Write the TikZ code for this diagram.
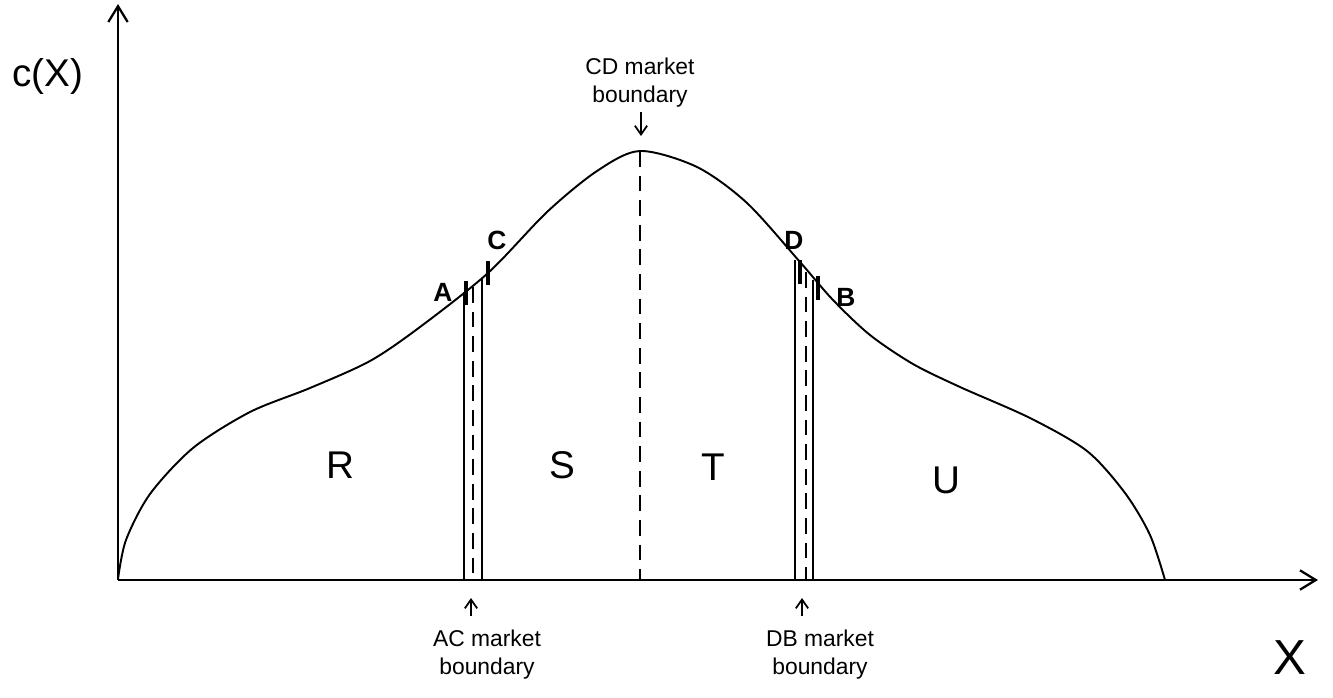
\documentclass[tikz,border=0pt]{standalone}
\usepackage{fontspec}
\setmainfont{Liberation Sans}
\usetikzlibrary{arrows.meta}

\begin{document}
\begin{tikzpicture}[x=0.02cm,y=-0.02cm,
 axis/.style={line width=1.3pt,-{Straight Barb[length=9pt,width=11pt,line width=1.3pt]}},
 curve/.style={line width=1.1pt},
 wall/.style={line width=0.8pt},
 mid/.style={line width=0.9pt,dash pattern=on 9pt off 5pt},
 tick/.style={line width=2.6pt},
 pointer/.style={line width=1pt,-{Straight Barb[length=5pt,width=7pt,line width=1pt]}},
 bigtxt/.style={font=\fontsize{22}{24}\selectfont},
 ptxt/.style={font=\fontsize{15}{17}\selectfont\bfseries},
 smalltxt/.style={font=\fontsize{13}{16}\selectfont,align=center}]
\useasboundingbox (0,0) rectangle (1333,697);
% axes
\coordinate (o) at (118,580);
\coordinate (ytop) at (118,4);
\coordinate (xend) at (1318,580);
\draw[axis] (o)--(ytop);
\draw[axis] (o)--(xend);
\node[bigtxt] (cx) at (48,76) {c(X)};
\node[font=\fontsize{28}{30}\selectfont] (xl) at (1290,658) {X};
% the cost curve
\draw[curve] plot[smooth,tension=0.5] coordinates {
 (118,579) (126,540) (150,494) (193,448) (250,412) (310,388) (370,361)
 (420,327) (488,273) (547,212) (597,171) (640,151) (697,167) (747,203)
 (800,262) (833,300) (870,335) (913,364) (960,387) (1030,418) (1087,451)
 (1125,493) (1150,535) (1165,580)};
% points on the curve and their feet
\foreach \n/\x/\y in {A/464/292,C/482/279,D/795/260,B/813/280,P/640/151}{
 \coordinate (\n) at (\x,\y);
 \coordinate (\n0) at (\x,580);
}
\coordinate (ac) at (473,287);
\coordinate (ac0) at (473,580);
\coordinate (db) at (806,272);
\coordinate (db0) at (806,580);
\foreach \n in {A,C,D,B}
 \draw[wall] (\n)--(\n0);
\draw[mid] (ac)--(ac0);
\draw[mid] (db)--(db0);
\draw[mid] (P)--(P0);
% thick marks at A, C, D and B
\draw[tick] (466,281)--(466,305);
\draw[tick] (488,261)--(488,285);
\draw[tick] (800,260)--(800,284);
\draw[tick] (818,276)--(818,300);
\node[ptxt] (la) at (443,292) {A};
\node[ptxt] (lc) at (497,240) {C};
\node[ptxt] (ld) at (794,240) {D};
\node[ptxt] (lb) at (846,297) {B};
% regions
\node[bigtxt] (r) at (340,465) {R};
\node[bigtxt] (s) at (562,465) {S};
\node[bigtxt] (t) at (713,467) {T};
\node[bigtxt] (u) at (946,480) {U};
% boundary labels
\node[smalltxt] (cd) at (640,83) {CD market\\boundary};
\coordinate (cdtop) at (641,112);
\coordinate (cdbot) at (641,136);
\draw[pointer] (cdtop)--(cdbot);
\node[smalltxt] (acl) at (487,655) {AC market\\boundary};
\coordinate (acf) at (471,616);
\coordinate (act) at (471,598);
\draw[pointer] (acf)--(act);
\node[smalltxt] (dbl) at (820,655) {DB market\\boundary};
\coordinate (dbf) at (802,616);
\coordinate (dbt) at (802,598);
\draw[pointer] (dbf)--(dbt);
\end{tikzpicture}
\end{document}
